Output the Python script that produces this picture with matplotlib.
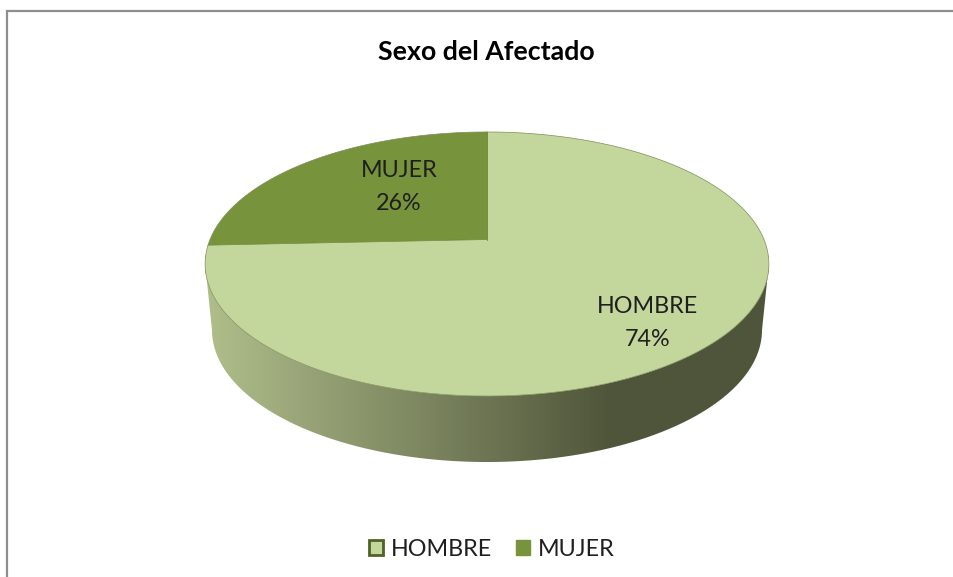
import numpy as np
import matplotlib
matplotlib.use("Agg")
import matplotlib.pyplot as plt
from matplotlib.colors import LinearSegmentedColormap
from matplotlib.patches import Patch

categories = ["HOMBRE", "MUJER"]
values = [74.3, 25.7]
title = "Sexo del Afectado"

colors = ["#C3D69B", "#77933C"]
edge = "#4F6228"
apex = (487, 239.5)   # where the slices meet on screen
k = 0.1856            # perspective of the pie top
a = 277
b = 127.5
side_stops = [(0, "#B0BE8B"), (0.72, "#4F553A"), (1, "#4F553A")]


def project(theta):
    # theta is clockwise from 12 o'clock
    x = np.sin(theta)
    y = np.cos(theta)
    w = 1 + k * y
    return apex[0] + a * x / w, apex[1] - b * y / w


plt.rcParams["font.family"] = ["Lato", "DejaVu Sans"]
fig = plt.figure(figsize=(9.54, 5.77), dpi=100)
ax = fig.add_axes([0, 0, 1, 1])
ax.set_xlim(0, 954)
ax.set_ylim(577, 0)
ax.axis("off")

# frame, only left and top are visible in the picture
ax.plot([7, 7, 954], [577, 11, 11], color="#8E8E8E", lw=1.6, solid_joinstyle="miter")

# side of the pie
t = np.linspace(0, 2 * np.pi, 721)
top_x, top_y = project(t)
i_right = np.argmax(top_x)
i_left = np.argmin(top_x)
cx = 487
cy = 330
rx = 275
ry = 132
bt = np.linspace(np.pi, 0, 361)
bot_x = cx + rx * np.cos(bt)
bot_y = cy + ry * np.sin(bt)
# top rim left to right is the reverse of the clockwise angle
rim_x = top_x[i_right:i_left + 1][::-1]
rim_y = top_y[i_right:i_left + 1][::-1]
side_x = np.concatenate([rim_x, bot_x[::-1]])
side_y = np.concatenate([rim_y, bot_y[::-1]])
side_poly = ax.fill(side_x, side_y, color="none", zorder=1)[0]
cmap = LinearSegmentedColormap.from_list("side", side_stops)
grad = np.linspace(0, 1, 600).reshape(1, -1)
img = ax.imshow(grad, cmap=cmap, extent=(205, 770, 470, 230), aspect="auto", zorder=1)
img.set_clip_path(side_poly)
ax.set_xlim(0, 954)
ax.set_ylim(577, 0)

# top of the pie
start = 0.0
for name, val, col in zip(categories, values, colors):
    end = start + val / sum(values) * 2 * np.pi
    th = np.linspace(start, end, 400)
    px, py = project(th)
    ax.fill(np.r_[apex[0], px], np.r_[apex[1], py], facecolor=col, edgecolor="none", zorder=3)
    start = end
    ax.plot([apex[0], px[-1]], [apex[1], py[-1]], color="#6E8838", lw=0.5, zorder=4)
ax.plot([apex[0], apex[0]], [apex[1], project(0.0)[1]], color="#6E8838", lw=0.5, zorder=4)
ax.plot(top_x, top_y, color="#7F8F5A", lw=0.5, zorder=4)

# labels
label_pos = [(648, 323), (399, 187)]
for name, val, pos in zip(categories, values, label_pos):
    ax.text(pos[0], pos[1], f"{name}\n{val:.0f}%", ha="center", va="center",
            fontsize=16.8, color="#1F1F1F", linespacing=1.65, zorder=5)

ax.text(486, 52, title, ha="center", va="center", fontsize=19.3, fontweight="bold", color="black")

handles = [Patch(facecolor=colors[0], edgecolor=edge, lw=2),
           Patch(facecolor=colors[1], edgecolor=colors[1], lw=1)]
ax.legend(handles, categories, ncol=2, loc="center", bbox_to_anchor=(492 / 954, 1 - 549 / 577),
          frameon=False, fontsize=16.8, handlelength=0.6, handleheight=0.6,
          handletextpad=0.35, columnspacing=1.0, labelcolor="#1F1F1F")

fig.savefig("out.png", dpi=100)
